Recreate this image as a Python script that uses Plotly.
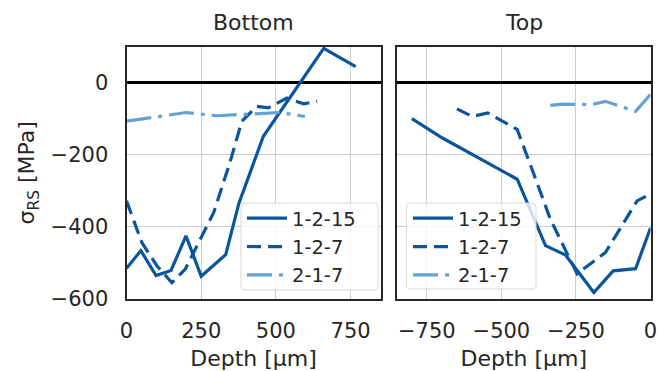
import plotly.graph_objects as go

# ---- data ----
series_names = ["1-2-15", "1-2-7", "2-1-7"]

bottom_1215_depth = [0, 48, 99, 149, 199, 250, 332, 376, 458, 660, 767]
bottom_1215_stress = [-515, -466, -535, -521, -425, -537, -477, -335, -149, 95, 44]

bottom_127_depth = [0, 51, 101, 152, 197, 264, 292, 346, 386, 436, 475, 537, 593, 638]
bottom_127_stress = [-328, -443, -507, -555, -517, -406, -360, -222, -107, -66, -70, -43, -59, -52]

bottom_217_depth = [0, 200, 301, 446, 513, 597]
bottom_217_stress = [-107, -83, -92, -85, -83, -94]

top_1215_depth = [-800, -699, -447, -352, -285, -190, -125, -50, 0]
top_1215_stress = [-100, -153, -268, -452, -478, -582, -522, -516, -403]

top_127_depth = [-649, -598, -546, -447, -397, -336, -285, -246, -151, -45, 0]
top_127_stress = [-73, -94, -84, -130, -241, -378, -465, -530, -471, -328, -309]

top_217_depth = [-336, -296, -196, -151, -50, 0]
top_217_stress = [-63, -60, -61, -52, -80, -33]

panel_titles = ["Bottom", "Top"]
x_label = "Depth [μm]"
y_label = "σ<sub>RS</sub> [MPa]"
left_ticks = [0, 250, 500, 750]
right_ticks = [-750, -500, -250, 0]
y_ticks = [-600, -400, -200, 0]

# ---- styles ----
DARK = "#0b559c"
LIGHT = "#65a1d1"
FONT = "DejaVu Sans"
TXT = "#262626"
styles = [
    dict(color=DARK, width=3.2, dash="solid"),
    dict(color=DARK, width=3.2, dash="14px,7px"),
    dict(color=LIGHT, width=3.2, dash="25px,7px,4px,7px"),
]

fig = go.Figure()

bottom = [(bottom_1215_depth, bottom_1215_stress),
          (bottom_127_depth, bottom_127_stress),
          (bottom_217_depth, bottom_217_stress)]
top = [(top_1215_depth, top_1215_stress),
       (top_127_depth, top_127_stress),
       (top_217_depth, top_217_stress)]

for i, (x, y) in enumerate(bottom):
    fig.add_trace(go.Scatter(x=x, y=y, mode="lines", name=series_names[i],
                             line=styles[i], xaxis="x", yaxis="y", legend="legend"))
for i, (x, y) in enumerate(top):
    fig.add_trace(go.Scatter(x=x, y=y, mode="lines", name=series_names[i],
                             line=styles[i], xaxis="x2", yaxis="y2", legend="legend2"))

W, H = 670, 371
L1, R1 = 126.5, 380.5
L2, R2 = 397, 650.5
T, B = 46.5, 299
dx1 = [L1 / W, R1 / W]
dx2 = [L2 / W, R2 / W]
dy = [1 - B / H, 1 - T / H]

axis_common = dict(
    showline=True, mirror=True, linecolor=TXT, linewidth=2,
    showgrid=True, gridcolor="#cccccc", gridwidth=1.2,
    ticks="", tickfont=dict(family=FONT, size=21, color=TXT),
    automargin=False,
)
title_font = dict(family=FONT, size=22, color=TXT)
legend_common = dict(yanchor="bottom", xanchor="left", y=1 - 295 / H,
                     bgcolor="rgba(0,0,0,0)", borderwidth=0,
                     font=dict(family=FONT, size=19.5, color=TXT), itemwidth=40)

fig.update_layout(
    width=W, height=H,
    margin=dict(l=0, r=0, t=0, b=0, autoexpand=False),
    paper_bgcolor="white", plot_bgcolor="white",
    font=dict(family=FONT, size=20, color=TXT),
    xaxis=dict(domain=dx1, range=[0, 850], tickvals=left_ticks, zeroline=False,
               ticklabelstandoff=12,
               title=dict(text=x_label, font=title_font, standoff=8),
               anchor="y", **axis_common),
    xaxis2=dict(domain=dx2, range=[-850, 0], tickvals=right_ticks, zeroline=False,
                ticklabelstandoff=12,
                title=dict(text=x_label, font=title_font, standoff=8),
                anchor="y2", **axis_common),
    yaxis=dict(domain=dy, range=[-600, 100], tickvals=y_ticks, anchor="x",
               zeroline=True, zerolinecolor="black", zerolinewidth=3,
               ticklabelstandoff=12,
               title=dict(text=y_label, font=title_font, standoff=10),
               **axis_common),
    yaxis2=dict(domain=dy, range=[-600, 100], tickvals=y_ticks, anchor="x2", matches="y",
                showticklabels=False,
                zeroline=True, zerolinecolor="black", zerolinewidth=3,
                **axis_common),
    legend=dict(x=242 / W, **legend_common),
    legend2=dict(x=408 / W, **legend_common),
    showlegend=True,
)


def rounded_box(x0, y0, x1, y1, r=4):
    # pixel coords (top-left origin) -> paper coords path
    def p(x, y):
        return f"{x / W:.5f},{1 - y / H:.5f}"
    return (f"M {p(x0 + r, y0)} L {p(x1 - r, y0)} Q {p(x1, y0)} {p(x1, y0 + r)} "
            f"L {p(x1, y1 - r)} Q {p(x1, y1)} {p(x1 - r, y1)} "
            f"L {p(x0 + r, y1)} Q {p(x0, y1)} {p(x0, y1 - r)} "
            f"L {p(x0, y0 + r)} Q {p(x0, y0)} {p(x0 + r, y0)} Z")


for box in [(241, 203, 378, 290), (406.5, 203, 536, 289)]:
    fig.add_shape(type="path", path=rounded_box(*box), xref="paper", yref="paper",
                  fillcolor="rgba(255,255,255,0.8)", line=dict(color="#d9d9d9", width=1),
                  layer="above")

for title, (a, b) in zip(panel_titles, [(L1, R1), (L2, R2)]):
    fig.add_annotation(text=title, x=(a + b) / 2 / W, y=1 - 22 / H, xref="paper", yref="paper",
                       xanchor="center", yanchor="middle", showarrow=False,
                       font=dict(family=FONT, size=22, color=TXT))

fig.write_html("out.html")
